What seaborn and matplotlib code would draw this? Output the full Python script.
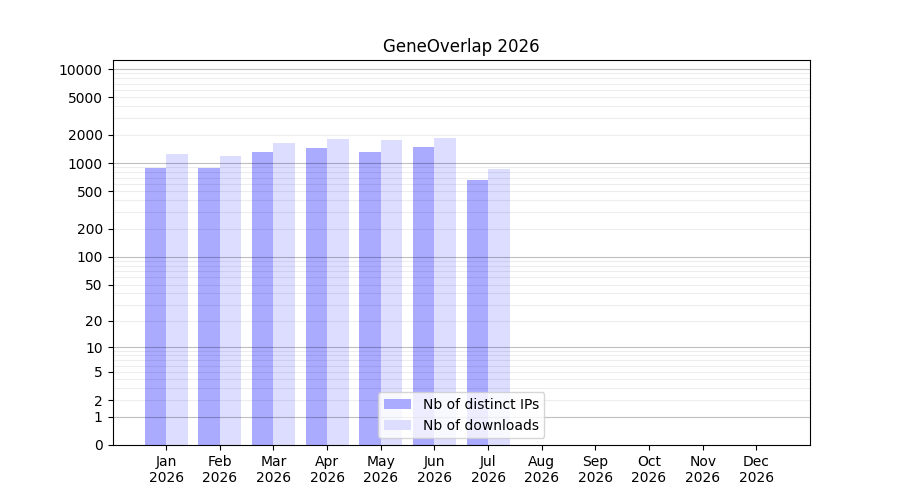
import matplotlib
matplotlib.use("Agg")
import matplotlib.pyplot as plt
import seaborn as sns
import numpy as np
import pandas as pd

months = ["Jan", "Feb", "Mar", "Apr", "May", "Jun", "Jul", "Aug", "Sep", "Oct", "Nov", "Dec"]
year = 2026
distinct_ips = [892, 892, 1320, 1455, 1320, 1490, 664, 0, 0, 0, 0, 0]
downloads = [1257, 1196, 1644, 1814, 1770, 1860, 870, 0, 0, 0, 0, 0]
series_names = ["Nb of distinct IPs", "Nb of downloads"]
y_ticks = [0, 1, 2, 5, 10, 20, 50, 100, 200, 500, 1000, 2000, 5000, 10000]

df = pd.DataFrame({
    "Month": months * 2,
    "Series": [series_names[0]] * len(months) + [series_names[1]] * len(months),
    "Value": distinct_ips + downloads,
})


def forward(x):
    return np.log10(np.clip(x, 0, None) + 1)


def inverse(y):
    return 10 ** y - 1


fig, ax = plt.subplots(figsize=(9, 5), dpi=100)

sns.barplot(data=df, x="Month", y="Value", hue="Series", order=months,
            hue_order=series_names, palette=["#aaaaff", "#ddddff"],
            width=0.8, saturation=1, linewidth=0, ax=ax)

ax.set_yscale("function", functions=(forward, inverse))
ax.set_ylim(0, 12500)
ax.set_xlim(-1, 12)

# light lines at every n*10^k, darker ones at decades
minor = [n * 10 ** k for k in range(0, 4) for n in range(2, 10)]
for v in minor:
    ax.axhline(v, color="black", alpha=0.07, linewidth=0.8, zorder=1.5)
for v in [1, 10, 100, 1000, 10000]:
    ax.axhline(v, color="black", alpha=0.25, linewidth=0.8, zorder=1.6)

ax.set_yticks(y_ticks)
ax.set_yticklabels([str(t) for t in y_ticks])
ax.minorticks_off()
ax.set_xticks(range(len(months)))
ax.set_xticklabels([f"{m}\n{year}" for m in months])
ax.set_xlabel("")
ax.set_ylabel("")
ax.set_title(f"GeneOverlap {year}")

ax.legend(loc="lower center")

plt.savefig("out.png", dpi=100)
